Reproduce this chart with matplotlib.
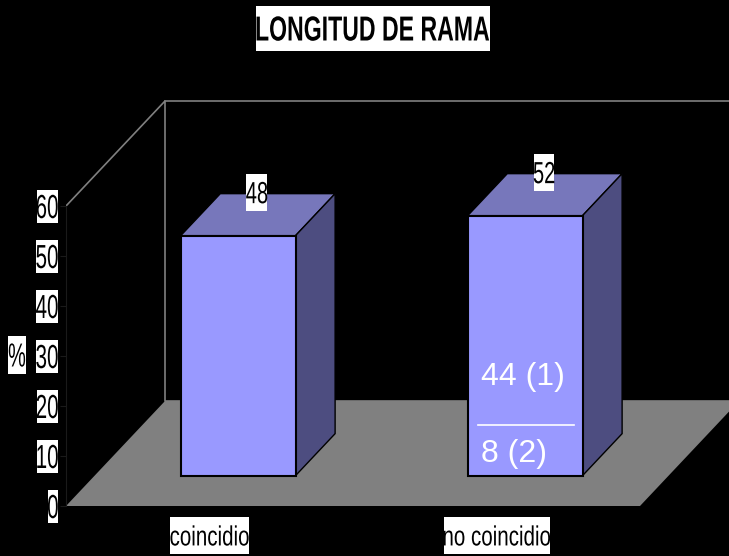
import matplotlib
matplotlib.use("Agg")
import matplotlib.pyplot as plt
from matplotlib.patheffects import AbstractPathEffect
from matplotlib.path import Path
from matplotlib.transforms import Affine2D

OUTPUT_FILE = "out.png"

categories = ["coincidio", "no coincidio"]
values = [48, 52]
y_ticks = [0, 10, 20, 30, 40, 50, 60]
split_labels = ["44 (1)", "8 (2)"]

DPI = 100
W, H = 729, 556

# oblique projection of the 3D box, one unit of depth in data units
DEPTH_X = 99 / 287
DEPTH_Y = 21
BAR_FRONT = 0.289
BAR_BACK = 0.689
BAR_WIDTH = 0.4
WALL_TOP = 60

FRONT = "#9999ff"
TOP = "#7777bb"
SIDE = "#4d4d80"
GREY = "#808080"


class SqueezedBox(AbstractPathEffect):
    # the reference text is squashed sideways and sits on a white box
    def __init__(self, squeeze, pad_x=1, pad_y=5, anchor=0.5):
        self.squeeze = squeeze
        self.pad_x = pad_x
        self.pad_y = pad_y
        self.anchor = anchor

    def draw_path(self, renderer, gc, tpath, affine, rgbFace=None):
        ext = tpath.get_extents()
        x0 = ext.x0 + self.anchor * ext.width
        squeeze = Affine2D().translate(-x0, 0).scale(self.squeeze, 1).translate(x0, 0)
        full = squeeze + affine
        box = full.transform_path(tpath).get_extents()
        rect = Affine2D().scale(box.width + 2 * self.pad_x, box.height + 2 * self.pad_y) \
            .translate(box.x0 - self.pad_x, box.y0 - self.pad_y)
        renderer.draw_path(gc, Path.unit_rectangle(), rect, (1, 1, 1))
        renderer.draw_path(gc, tpath, full, rgbFace)


def project(x, y, depth):
    return x + depth * DEPTH_X, y + depth * DEPTH_Y


plt.rcParams["font.family"] = ["Liberation Sans", "DejaVu Sans"]

fig = plt.figure(figsize=(W / DPI, H / DPI), dpi=DPI, facecolor="black")
ax = fig.add_axes([66 / W, 50 / H, (W - 66) / W, 506 / H], facecolor="black")
ax.set_xlim(-0.5, (W - 209.5) / 287)
ax.set_ylim(0, 506 / 5)

# floor and the two wall outlines
x_left, x_right = -0.5, len(categories) - 0.5
bx_left, _ = project(x_left, 0, 1)
bx_right, _ = project(x_right, 0, 1)
ax.fill([x_left, x_right, bx_right, bx_left], [0, 0, DEPTH_Y, DEPTH_Y], color=GREY, lw=0, zorder=1)
ax.plot([x_left, bx_left, bx_left, bx_right],
        [WALL_TOP, WALL_TOP + DEPTH_Y, DEPTH_Y, DEPTH_Y], color=GREY, lw=1.2, zorder=1)
ax.plot([bx_left, bx_right], [WALL_TOP + DEPTH_Y] * 2, color=GREY, lw=1.2, zorder=1)

# bars
for i, v in enumerate(values):
    fx, fy = project(i, 0, BAR_FRONT)
    dx = (BAR_BACK - BAR_FRONT) * DEPTH_X
    dy = (BAR_BACK - BAR_FRONT) * DEPTH_Y
    left, right = fx - BAR_WIDTH / 2, fx + BAR_WIDTH / 2
    ax.fill([left, right, right + dx, left + dx], [fy + v, fy + v, fy + v + dy, fy + v + dy],
            facecolor=TOP, edgecolor="black", lw=1, zorder=2)
    ax.fill([right, right + dx, right + dx, right], [fy, fy + dy, fy + v + dy, fy + v],
            facecolor=SIDE, edgecolor="black", lw=1, zorder=2)
    ax.bar(fx, v, BAR_WIDTH, bottom=fy, color=FRONT, edgecolor="black", lw=1.5, zorder=3)
    lx, _ = project(i, 0, (BAR_FRONT + BAR_BACK) / 2)
    ax.text(lx - 0.003, v + BAR_BACK * DEPTH_Y - 0.3, str(v), ha="center", va="center", fontsize=22,
            color="black", zorder=5, path_effects=[SqueezedBox(0.66, pad_x=0, pad_y=8)])

# split of the second bar
ax.text(0.946, 24.2, split_labels[0], color="white", fontsize=23, ha="left", va="baseline", zorder=4)
ax.text(0.946, 8.8, split_labels[1], color="white", fontsize=23, ha="left", va="baseline", zorder=4)
ax.plot([0.9355, 1.27], [16.2, 16.2], color="white", lw=1.2, zorder=4)

# axes
for name in ["top", "right", "bottom"]:
    ax.spines[name].set_visible(False)
ax.spines["left"].set_color("#1a1a1a")
ax.spines["left"].set_bounds(0, WALL_TOP)
ax.set_yticks(y_ticks)
ax.set_yticklabels([str(t) for t in y_ticks], fontsize=24, color="black")
ax.tick_params(axis="y", color="#1a1a1a", length=4, pad=1)
for t in ax.get_yticklabels():
    t.set_path_effects([SqueezedBox(0.62, pad_x=0, pad_y=5, anchor=1)])
ax.set_xticks(range(len(categories)))
ax.set_xticklabels(categories, fontsize=20, color="black")
ax.tick_params(axis="x", length=0, pad=14)
for t in ax.get_xticklabels():
    t.set_path_effects([SqueezedBox(0.74, pad_x=0, pad_y=8)])

fig.text(17 / W, 1 - 358 / H, "%", ha="center", va="center", fontsize=24, color="black",
         path_effects=[SqueezedBox(0.6, pad_x=1, pad_y=7)])
fig.text(372.5 / W, 1 - 31 / H, "LONGITUD DE RAMA", ha="center", va="center", fontsize=25,
         fontweight="bold", color="black", path_effects=[SqueezedBox(0.665, pad_x=1, pad_y=10)])

fig.savefig(OUTPUT_FILE, dpi=DPI, facecolor="black")
